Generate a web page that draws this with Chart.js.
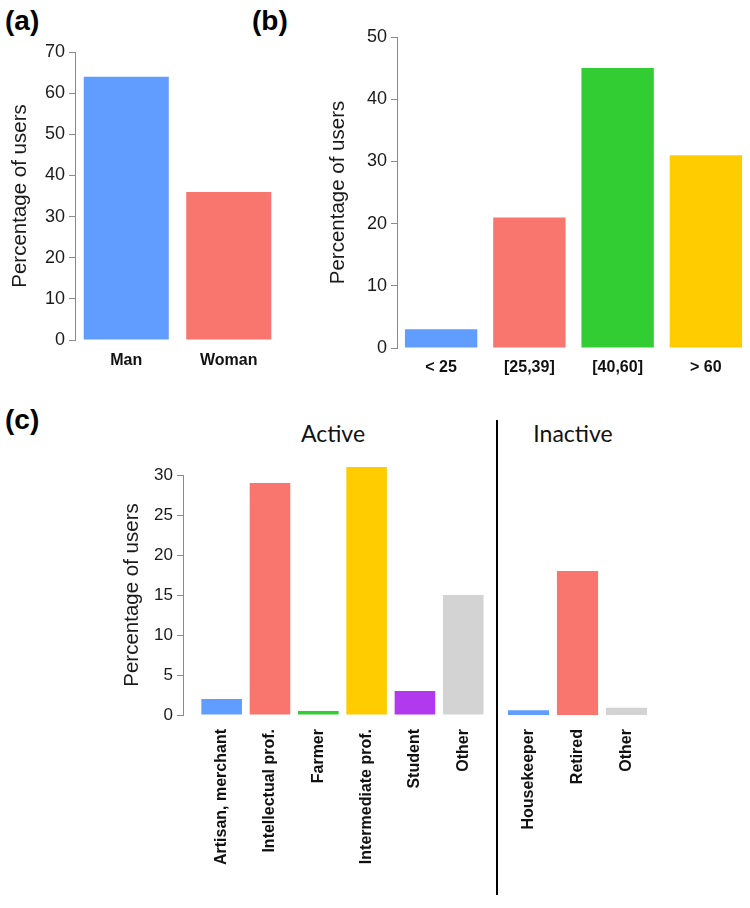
<!DOCTYPE html>
<html>
<head>
<meta charset="utf-8">
<script src="https://cdn.jsdelivr.net/npm/chart.js@4.4.1/dist/chart.umd.min.js"></script>
<style>
body { margin: 0; background: #fff; }
#wrap { position: relative; width: 750px; height: 908px; font-family: 'Liberation Sans', Arial, sans-serif; }
canvas { position: absolute; }
.tag { position: absolute; font-weight: bold; font-size: 28px; line-height: 1; color: #000; }
.group { position: absolute; font-family: Lato, 'Noto Sans', sans-serif; font-size: 23px; line-height: 1; color: #111; transform: translateX(-50%); }
#divider { position: absolute; left: 496px; top: 420px; width: 2px; height: 475px; background: #000; }
</style>
</head>
<body>
<div id="wrap">
  <div class="tag" style="left:5px; top:7px;">(a)</div>
  <div class="tag" style="left:252px; top:7px;">(b)</div>
  <div class="tag" style="left:5px; top:406px;">(c)</div>
  <div class="group" style="left:333px; top:422px;">Active</div>
  <div class="group" style="left:573px; top:422px;">Inactive</div>
  <div id="divider"></div>
  <canvas id="genderChart" width="290" height="380" style="left:0; top:0;"></canvas>
  <canvas id="ageChart" width="450" height="380" style="left:300px; top:0;"></canvas>
  <canvas id="activeChart" width="497" height="458" style="left:0; top:450px;"></canvas>
  <canvas id="inactiveChart" width="253" height="458" style="left:497px; top:450px;"></canvas>
</div>
<script>
const genderLabels = ['Man', 'Woman'];
const genderValues = [64, 36];
const genderColors = ['#619CFF', '#F8766D'];

const ageLabels = ['< 25', '[25,39]', '[40,60]', '> 60'];
const ageValues = [3, 21, 45, 31];
const ageColors = ['#619CFF', '#F8766D', '#32CD32', '#FFCC00'];

const activeJobs = ['Artisan, merchant', 'Intellectual prof.', 'Farmer', 'Intermediate prof.', 'Student', 'Other'];
const activeValues = [2, 29, 0.5, 31, 3, 15];
const activeColors = ['#619CFF', '#F8766D', '#32CD32', '#FFCC00', '#B23AEE', '#D3D3D3'];

const inactiveJobs = ['Housekeeper', 'Retired', 'Other'];
const inactiveValues = [0.6, 18, 0.9];
const inactiveColors = ['#619CFF', '#F8766D', '#D3D3D3'];

const FONT = "'Liberation Sans', Arial, sans-serif";
const AXIS_GREY = '#8a8a8a';

Chart.defaults.animation = false;
Chart.defaults.responsive = false;
Chart.defaults.plugins.legend.display = false;
Chart.defaults.plugins.tooltip.enabled = false;

function yAxis(max, step, width, titlePad, tickSize) {
    return {
        min: 0,
        max: max,
        afterFit: function (scale) { scale.width = width; },
        border: { display: true, color: AXIS_GREY, width: 1 },
        grid: { display: true, drawOnChartArea: false, drawTicks: true, tickLength: 6, color: AXIS_GREY },
        ticks: { stepSize: step, padding: 4, color: '#1a1a1a', font: { family: FONT, size: tickSize } },
        title: {
            display: true,
            text: 'Percentage of users',
            color: '#1a1a1a',
            padding: { top: titlePad, bottom: 0 },
            font: { family: FONT, size: 20.5 }
        }
    };
}

function xAxis(height, fontSize, padding, rotated) {
    return {
        afterFit: function (scale) { scale.height = height; },
        border: { display: false },
        grid: { display: false, drawTicks: false },
        ticks: {
            padding: padding,
            color: '#111',
            minRotation: rotated ? 90 : 0,
            maxRotation: rotated ? 90 : 0,
            autoSkip: false,
            font: { family: FONT, size: fontSize, weight: 'bold' }
        }
    };
}

// (a) gender
new Chart(document.getElementById('genderChart'), {
    type: 'bar',
    data: {
        labels: genderLabels,
        datasets: [{ data: genderValues, backgroundColor: genderColors, barPercentage: 0.83, categoryPercentage: 1 }]
    },
    options: {
        layout: { padding: { top: 52, right: 10, left: 0, bottom: 0 } },
        scales: {
            x: xAxis(40, 16, 11, false),
            y: yAxis(70, 10, 75, 8, 18)
        }
    }
});

// (b) age
new Chart(document.getElementById('ageChart'), {
    type: 'bar',
    data: {
        labels: ageLabels,
        datasets: [{ data: ageValues, backgroundColor: ageColors, barPercentage: 0.82, categoryPercentage: 1 }]
    },
    options: {
        layout: { padding: { top: 37, right: 0, left: 0, bottom: 0 } },
        scales: {
            x: xAxis(32, 16, 10, false),
            y: yAxis(50, 10, 97, 26, 18)
        }
    }
});

// (c) active occupations - linear x so the first bar sits clear of the y axis
const activeX = xAxis(193, 16, 14, true);
activeX.type = 'linear';
activeX.offset = false;
activeX.grid.offset = false;
activeX.min = -0.8;
activeX.max = 5.5;
activeX.afterBuildTicks = function (scale) {
    scale.ticks = activeJobs.map((_, i) => ({ value: i }));
};
activeX.ticks.callback = function (value) { return activeJobs[value]; };

new Chart(document.getElementById('activeChart'), {
    type: 'bar',
    data: {
        datasets: [{
            data: activeJobs.map((_, i) => ({ x: i, y: activeValues[i] })),
            backgroundColor: activeColors,
            barPercentage: 0.84,
            categoryPercentage: 1,
            clip: false
        }]
    },
    options: {
        layout: { padding: { top: 25, right: 7, left: 0, bottom: 0 } },
        scales: {
            x: activeX,
            y: yAxis(30, 5, 183, 120, 17)
        }
    }
});

// (c) inactive occupations, same y range, no axis drawn
new Chart(document.getElementById('inactiveChart'), {
    type: 'bar',
    data: {
        labels: inactiveJobs,
        datasets: [{ data: inactiveValues, backgroundColor: inactiveColors, barPercentage: 0.84, categoryPercentage: 1, clip: false }]
    },
    options: {
        layout: { padding: { top: 25, right: 99, left: 7, bottom: 0 } },
        scales: {
            x: xAxis(193, 16, 14, true),
            y: { display: false, min: 0, max: 30 }
        }
    }
});
</script>
</body>
</html>
